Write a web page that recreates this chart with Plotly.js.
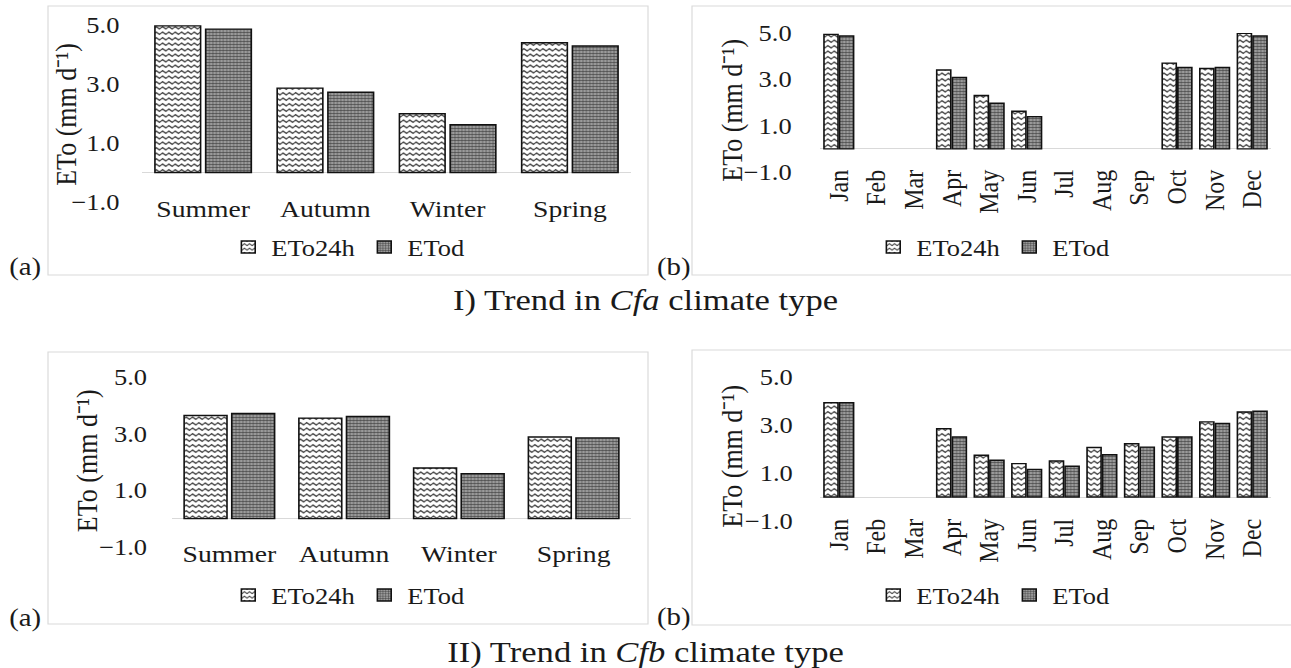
<!DOCTYPE html>
<html><head><meta charset="utf-8">
<script src="https://cdn.plot.ly/plotly-3.0.1.min.js"></script>
<style>
html,body{margin:0;padding:0;background:#fff;overflow:hidden;}
#wrap{width:1120px;height:668px;transform:scaleX(1.15268);transform-origin:0 0;}
</style></head><body>
<div id="wrap"><div id="chart" style="width:1120px;height:668px"></div></div>
<script>
// ---- data ----
const seasons = ['Summer', 'Autumn', 'Winter', 'Spring'];
const months = ['Jan','Feb','Mar','Apr','May','Jun','Jul','Aug','Sep','Oct','Nov','Dec'];
const seriesNames = ['ETo24h', 'ETod'];
const cfaSeasonEto24h = [4.97, 2.86, 1.99, 4.40];
const cfaSeasonEtod   = [4.86, 2.72, 1.62, 4.29];
const cfaMonthEto24h  = [4.94, null, null, 3.40, 2.30, 1.62, null, null, null, 3.70, 3.47, 4.99];
const cfaMonthEtod    = [4.87, null, null, 3.08, 1.97, 1.39, null, null, null, 3.51, 3.51, 4.87];
const cfbSeasonEto24h = [3.64, 3.55, 1.79, 2.88];
const cfbSeasonEtod   = [3.71, 3.61, 1.59, 2.85];
const cfbMonthEto24h  = [3.93, null, null, 2.85, 1.74, 1.39, 1.50, 2.06, 2.22, 2.50, 3.13, 3.54];
const cfbMonthEtod    = [3.93, null, null, 2.50, 1.53, 1.15, 1.28, 1.76, 2.08, 2.50, 3.06, 3.57];
const panelLetters = ['(a)', '(b)'];
const groupTitles = ['I) Trend in <i>Cfa</i> climate type', 'II) Trend in <i>Cfb</i> climate type'];
const yTitle = 'ETo (mm d\u207B\u00B9)';

// ---- helpers ----
const FW = 1291, FH = 668;
const fx = x => x / FW;
const fy = y => 1 - y / FH;
const FONT = 'Liberation Serif, Times New Roman, serif';
const TXT = '#1a1a1a';
const WAVE_FG = '#222222';

const styleA = {color:'#ffffff', line:{color:'#111', width:1.4},
  pattern:{shape:'-', fgcolor:WAVE_FG, bgcolor:'#ffffff', size:5.5, solidity:0.2}};
const styleB = {color:'#8c8c8c', line:{color:'#111', width:1.4},
  pattern:{shape:'+', fgcolor:'#383838', bgcolor:'#9a9a9a', size:3, solidity:0.3}};

function pair(cats, a, b, xa, ya, leg) {
  return [
    {type:'bar', name:seriesNames[0], x:cats, y:a, xaxis:xa, yaxis:ya, legend:leg, marker:styleA, hoverinfo:'skip'},
    {type:'bar', name:seriesNames[1], x:cats, y:b, xaxis:xa, yaxis:ya, legend:leg, marker:styleB, hoverinfo:'skip'}
  ];
}
const data = [].concat(
  pair(seasons, cfaSeasonEto24h, cfaSeasonEtod, 'x', 'y', 'legend'),
  pair(months, cfaMonthEto24h, cfaMonthEtod, 'x2', 'y2', 'legend2'),
  pair(seasons, cfbSeasonEto24h, cfbSeasonEtod, 'x3', 'y3', 'legend3'),
  pair(months, cfbMonthEto24h, cfbMonthEtod, 'x4', 'y4', 'legend4')
);

function xax(d0, d1, anchor, cats, angle, standoff, size) {
  return {domain:[fx(d0), fx(d1)], anchor:anchor, type:'category', categoryarray:cats,
    categoryorder:'array', range:[-0.5, cats.length - 0.5], showline:false, showgrid:false,
    zeroline:false, ticks:'', ticklen:0, tickangle:angle, ticklabelstandoff:standoff,
    tickfont:{family:FONT, size:size, color:TXT}, fixedrange:true};
}
function yax(top, bot, anchor, tl) {
  return {domain:[fy(bot), fy(top)], anchor:anchor, range:[-1, 5], tick0:-1, dtick:2,
    tickformat:'.1f', ticks:'outside', ticklen:tl, tickcolor:'rgba(0,0,0,0)',
    showline:false, showgrid:false, zeroline:true, zerolinecolor:'#d9d9d9', zerolinewidth:1,
    tickfont:{family:FONT, size:23, color:TXT}, fixedrange:true};
}
function leg(x, y) {
  return {x:fx(x), y:fy(y), xanchor:'center', yanchor:'middle', orientation:'h',
    bgcolor:'rgba(0,0,0,0)', font:{family:FONT, size:23, color:TXT}, traceorder:'normal'};
}
function ann(text, x, y, size, angle) {
  return {text:text, x:fx(x), y:fy(y), xref:'paper', yref:'paper', showarrow:false,
    xanchor:'center', yanchor:'middle', textangle:angle || 0,
    font:{family:FONT, size:size, color:TXT}};
}
function box(x0, y0, x1, y1) {
  return {type:'rect', xref:'paper', yref:'paper', x0:fx(x0), x1:fx(x1), y0:fy(y1), y1:fy(y0),
    line:{color:'#d9d9d9', width:1}, fillcolor:'rgba(0,0,0,0)', layer:'below'};
}

const layout = {
  width:1120, height:668, autosize:false, margin:{l:0, r:0, t:0, b:0},
  paper_bgcolor:'#ffffff', plot_bgcolor:'rgba(0,0,0,0)',
  barmode:'group', bargap:0.17, bargroupgap:0.1,
  font:{family:FONT, color:TXT},
  xaxis:  xax(142, 631, 'y',  seasons, 0, -10, 24),
  yaxis:  yax(25, 202, 'x', 14),
  xaxis2: xax(820, 1271, 'y2', months, -90, -8, 24),
  yaxis2: yax(33, 172, 'x2', 19),
  xaxis3: xax(172, 631, 'y3', seasons, 0, -10, 24),
  yaxis3: yax(377, 547, 'x3', 16),
  xaxis4: xax(820, 1271, 'y4', months, -90, -8, 24),
  yaxis4: yax(377, 521, 'x4', 18),
  legend:  leg(348, 247),
  legend2: leg(993, 247),
  legend3: leg(348, 595),
  legend4: leg(993, 595),
  shapes: [box(48, 6, 648, 275), box(692, 6, 1295, 275), box(48, 352, 648, 624), box(692, 350, 1295, 625)],
  annotations: [
    ann(yTitle, 67, 114, 26, -90), ann(yTitle, 732, 110, 26, -90),
    ann(yTitle, 87, 460, 26, -90), ann(yTitle, 732, 456, 26, -90),
    ann(panelLetters[0], 25, 267, 25), ann(panelLetters[1], 674, 267, 25),
    ann(panelLetters[0], 25, 618, 25), ann(panelLetters[1], 674, 617, 25),
    ann(groupTitles[0], 645, 300, 30), ann(groupTitles[1], 645, 652, 30)
  ]
};

function wavify() {
  const gd = document.getElementById('chart');
  gd.querySelectorAll('pattern').forEach(p => {
    const path = p.querySelector('path');
    if (!path || path.getAttribute('data-wave')) return;
    const st = (path.getAttribute('stroke') || '') + ' ' + (path.getAttribute('style') || '');
    const d = path.getAttribute('d') || '';
    const isWave = /34,\s*34,\s*34/.test(st) || /#222222/i.test(st) || (/H/.test(d) && !/V/.test(d));
    if (!isWave) return;
    const w = parseFloat(p.getAttribute('width')), h = parseFloat(p.getAttribute('height'));
    const m = h / 2, a = h * 0.22;
    path.setAttribute('d', 'M0,' + m + 'L' + (w/4) + ',' + (m - a) + 'L' + (3*w/4) + ',' + (m + a) + 'L' + w + ',' + m);
    path.setAttribute('fill', 'none');
    path.style.fill = 'none';
    path.setAttribute('stroke-width', '1.1px');
    path.style.strokeWidth = '1.1px';
    path.setAttribute('data-wave', '1');
  });
  gd.querySelectorAll('text').forEach(t => { if (!t.textContent.trim()) t.remove(); });
}

Plotly.newPlot('chart', data, layout, {staticPlot:true, displayModeBar:false}).then(() => {
  wavify();
  setTimeout(wavify, 50);
  setTimeout(wavify, 300);
});
</script></body></html>
